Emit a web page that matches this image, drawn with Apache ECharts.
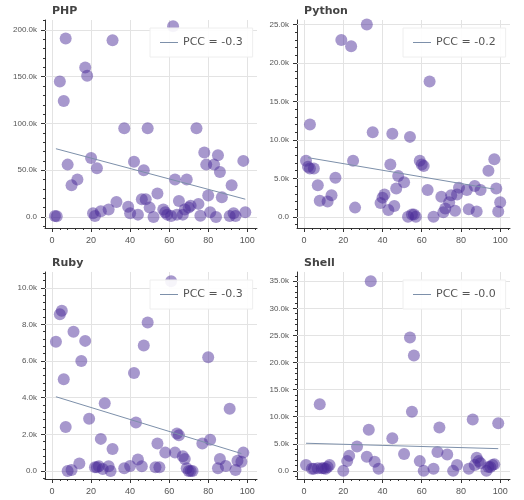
<!DOCTYPE html>
<html><head><meta charset="utf-8">
<script src="https://cdn.jsdelivr.net/npm/echarts@6/dist/echarts.min.js"></script>
<style>html,body{margin:0;padding:0;background:#fff}#c{width:524px;height:500px}</style>
</head><body><div id="c"></div>
<script>
const titles = ['PHP','Python','Ruby','Shell'];
const pccLabels = ['PCC = -0.3','PCC = -0.2','PCC = -0.3','PCC = -0.0'];
const phpX = [1.5,2.4,4,6,7,8,10,13,17,18,20,21,22,23,25,29,31,33,37,39,40,42,44,46,47,48,49,50,52,54,57,58,59,61,62,63,64,65,67,68,69,70,71,74,75,76,78,79,80,81,83,84,85,86,87,91,92,93,94,98,99];
const phpY = [1000,700,145000,124000,191000,56000,34000,40000,160000,151000,63000,4000,1000,52000,6000,8000,189000,16000,95000,11000,4000,59000,2500,19000,50000,19000,95000,10000,0,25000,8000,5000,2500,1000,204000,40000,2500,17000,2500,8000,40000,10000,12000,95000,14000,1400,69000,56000,23000,5000,56000,0,66000,48000,21000,1000,34000,4000,1000,60000,5000];
const pyX = [1,2,3,3,5,7,8,12,14,16,19,24,25,26,32,35,39,40,41,43,44,45,46,47,48,51,53,54,55,56,57,59,60,61,63,64,66,70,71,72,74,75,77,78,79,83,84,87,88,90,94,97,98,99,100];
const pyY = [7300,6500,6300,12000,6300,4100,2100,2000,2800,5100,23000,22200,7300,1200,25000,11000,1800,2500,2900,900,6800,10800,1400,3700,5300,4500,0,10400,300,300,0,7300,6800,6600,3500,17600,0,2600,600,1100,1900,2800,800,2900,3800,3500,1000,4000,700,3500,6000,7500,3700,700,1900];
const rbX = [2,4,5,6,7,8,10,11,14,15,17,19,22,23,24,25,26,27,29,30,31,37,40,42,43,44,46,47,49,53,54,55,58,61,63,64,65,67,68,69,70,71,72,77,80,81,85,86,89,91,94,95,97,98];
const rbY = [7050,8550,8750,5000,2400,0,50,7600,400,6000,7100,2850,200,200,250,1750,100,3700,250,0,1200,150,270,5350,2650,630,250,6850,8100,200,1500,200,1000,10350,1000,2050,1950,800,650,150,0,0,0,1500,6200,1700,150,650,270,3400,50,550,500,1000];
const shX = [1,4,5,7,8,9,10,11,12,13,20,22,23,27,32,33,34,36,38,45,51,54,55,56,59,61,66,68,69,73,76,78,84,86,87,88,89,90,93,94,95,96,97,99];
const shY = [1100,400,400,500,12300,500,500,400,700,1100,0,1800,2800,4500,2600,7600,35000,1700,400,6000,3100,24600,10900,21300,1800,0,400,3500,8000,3000,0,1100,400,9500,1100,2400,1800,1400,0,700,700,1100,1200,8800];
const xTicks = [0,20,40,60,80,100];
const yTicks = [[0,50000,100000,150000,200000],[0,5000,10000,15000,20000,25000],[0,2000,4000,6000,8000,10000],[0,5000,10000,15000,20000,25000,30000,35000]];
const fitX = [[2,99],[2,97],[2,97],[1,99]];
const fitY = [[73000,19000],[7700,3600],[4050,950],[5100,4100]];
const xs=[phpX,pyX,rbX,shX], ys=[phpY,pyY,rbY,shY];
const yMin=[-11800,-1450,-440,-1500], yMax=[210700,25600,10860,36700];
const L=[45,297,45,297], T=[20,20,272,272], W=[212,213,212,213], H=[208,208,207,207];
const fmtY=v=>{ if(v===0) return '0.0'; return (v/1000).toFixed(1)+'k'; };
const minor=(ticks)=>{const r=[];const st=(ticks[1]-ticks[0])/5;for(let v=ticks[0]-st;v<=ticks[ticks.length-1]+st*5;v+=st)r.push(Math.round(v*1000)/1000);return r;};
const grid=[],xAxis=[],yAxis=[],series=[],legend=[],title=[];
for(let i=0;i<4;i++){
  grid.push({left:L[i],top:T[i],width:W[i],height:H[i],show:true,borderWidth:0,backgroundColor:'#fff'});
  title.push({text:titles[i],left:L[i]+2,top:T[i]-19,textStyle:{fontSize:11,fontWeight:'bold',color:'#444',fontFamily:'DejaVu Sans'}});
  xAxis.push({type:'value',gridIndex:i,min:-3.6,max:105,
    axisLine:{onZero:false,lineStyle:{color:'#333'}},
    axisTick:{show:true,length:4,customValues:xTicks,lineStyle:{color:'#333'}},
    splitLine:{show:false},
    axisLabel:{fontSize:9,color:'#555',customValues:xTicks,formatter:v=>String(v)}});
  yAxis.push({type:'value',gridIndex:i,min:yMin[i],max:yMax[i],
    axisLine:{show:true,onZero:false,lineStyle:{color:'#333'}},
    axisTick:{show:true,length:4,customValues:yTicks[i],lineStyle:{color:'#333'}},
    splitLine:{show:false},
    axisLabel:{fontSize:8,color:'#555',customValues:yTicks[i],formatter:fmtY}});
  const xi=xAxis.length-1, yi=yAxis.length-1;
  const ml=[...xTicks.map(v=>({xAxis:v})),...yTicks[i].map(v=>({yAxis:v}))];
  series.push({type:'scatter',xAxisIndex:xi,yAxisIndex:yi,symbolSize:12,z:3,
    data:xs[i].map((x,j)=>[x,ys[i][j]]),itemStyle:{color:'rgba(72,40,150,0.6)'},
    markLine:{silent:true,symbol:'none',label:{show:false},lineStyle:{color:'#e3e3e3',type:'solid',width:1},data:ml,z:1}});
  series.push({type:'line',name:pccLabels[i],xAxisIndex:xi,yAxisIndex:yi,symbol:'none',z:4,
    data:fitX[i].map((x,j)=>[x,fitY[i][j]]),lineStyle:{color:'#7d90aa',width:1},itemStyle:{color:'#7d90aa'}});
  xAxis.push({type:'value',gridIndex:i,min:-3.6,max:105,position:'bottom',offset:0,
    axisLine:{show:false,onZero:false},axisLabel:{show:false},splitLine:{show:false},
    axisTick:{show:true,length:2,customValues:minor(xTicks).filter(v=>v>=-3.6&&v<=105),lineStyle:{color:'#333'}}});
  yAxis.push({type:'value',gridIndex:i,min:yMin[i],max:yMax[i],position:'left',offset:0,
    axisLine:{show:false,onZero:false},axisLabel:{show:false},splitLine:{show:false},
    axisTick:{show:true,length:2,customValues:minor(yTicks[i]).filter(v=>v>=yMin[i]&&v<=yMax[i]),lineStyle:{color:'#333'}}});
  legend.push({data:[pccLabels[i]],left:L[i]+W[i]-107,top:T[i]+8,width:100,
    padding:[9,10,9,10],backgroundColor:'rgba(255,255,255,0.9)',borderColor:'#eee',borderWidth:1,
    icon:'rect',itemWidth:18,itemHeight:1,itemGap:6,
    textStyle:{fontSize:11,color:'#555',fontFamily:'DejaVu Sans'}});
}
const chart=echarts.init(document.getElementById('c'));
chart.setOption({animation:false,title,grid,xAxis,yAxis,series,legend});
</script></body></html>
